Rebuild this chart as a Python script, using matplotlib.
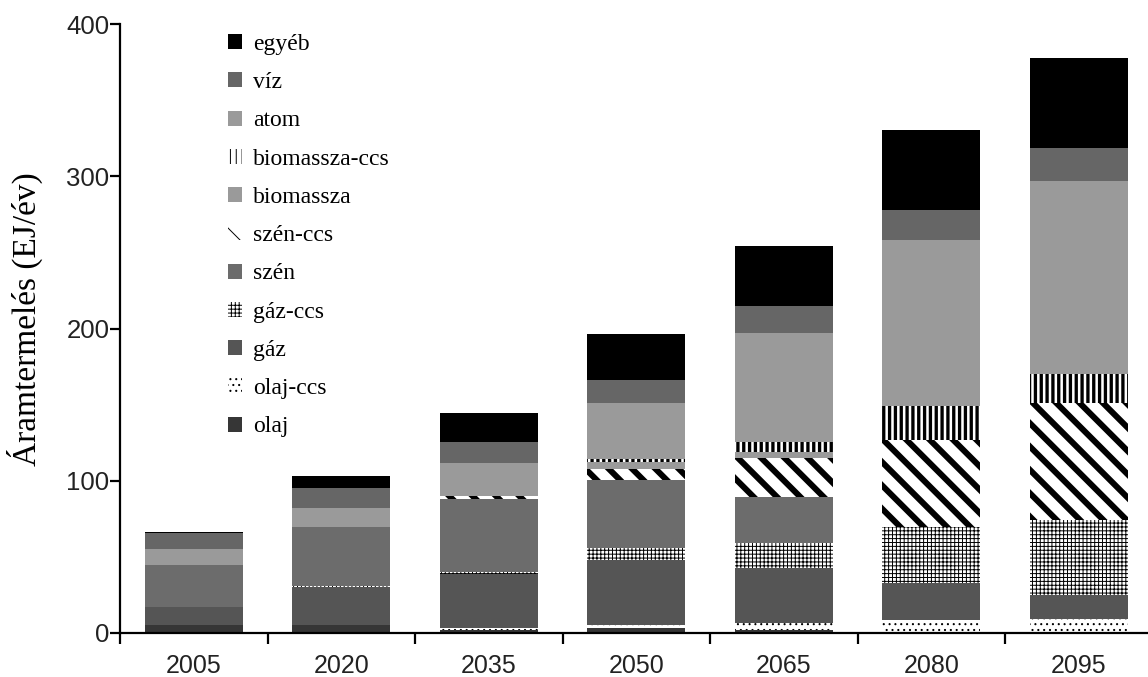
import matplotlib
matplotlib.use("Agg")
import matplotlib.pyplot as plt
import numpy as np

years = ["2005", "2020", "2035", "2050", "2065", "2080", "2095"]

olaj        = [5.3, 5.3, 2.0, 3.0, 2.0, 0.5, 0.5]
olaj_ccs    = [0.0, 0.0, 1.1, 2.3, 4.4, 8.0, 8.5]
gaz         = [11.8, 24.9, 35.7, 42.6, 36.1, 24.1, 16.0]
gaz_ccs     = [0.0, 0.5, 1.5, 7.7, 16.8, 37.2, 49.2]
szen        = [27.6, 38.7, 47.5, 44.9, 30.2, 0.0, 0.0]
szen_ccs    = [0.0, 0.3, 2.2, 7.0, 25.2, 57.0, 76.6]
biomassza   = [0.0, 0.0, 2.0, 5.0, 4.4, 0.0, 0.0]
biomassza_ccs = [0.0, 0.0, 0.0, 1.6, 6.6, 22.3, 19.3]
atom        = [10.5, 12.6, 19.5, 36.8, 71.1, 109.0, 126.8]
viz         = [10.6, 12.7, 13.8, 15.3, 18.0, 19.7, 21.5]
egyeb       = [0.5, 8.3, 19.4, 30.2, 39.4, 52.6, 59.3]

DPI = 70
S = 100 / DPI  # point scale so sizes match a 100-dpi layout

series = [
    ("olaj", olaj, dict(facecolor="#363636", edgecolor="#363636", hatch=None), 1.0),
    ("olaj-ccs", olaj_ccs, dict(facecolor="white", edgecolor="black", hatch=".."), 1.0),
    ("gáz", gaz, dict(facecolor="#555555", edgecolor="#555555", hatch=None), 1.0),
    ("gáz-ccs", gaz_ccs, dict(facecolor="white", edgecolor="black", hatch="+++"), 1.0),
    ("szén", szen, dict(facecolor="#6c6c6c", edgecolor="#6c6c6c", hatch=None), 1.0),
    ("szén-ccs", szen_ccs, dict(facecolor="white", edgecolor="black", hatch="\\"), 6.2),
    ("biomassza", biomassza, dict(facecolor="#9a9a9a", edgecolor="#9a9a9a", hatch=None), 1.0),
    ("biomassza-ccs", biomassza_ccs, dict(facecolor="white", edgecolor="black", hatch="||"), 3.4),
    ("atom", atom, dict(facecolor="#9a9a9a", edgecolor="#9a9a9a", hatch=None), 1.0),
    ("víz", viz, dict(facecolor="#666666", edgecolor="#666666", hatch=None), 1.0),
    ("egyéb", egyeb, dict(facecolor="black", edgecolor="black", hatch=None), 1.0),
]

W, H = 1148, 677
fig = plt.figure(figsize=(W / DPI, H / DPI), dpi=DPI)
ax = fig.add_axes([120 / W, (H - 633) / H, 1032.5 / W, (633 - 24) / H])

x = np.arange(len(years))
bottom = np.zeros(len(years))
handles = []
for name, vals, style, hlw in series:
    with plt.rc_context({"hatch.linewidth": hlw}):
        bc = ax.bar(x, vals, 0.665, bottom=bottom, linewidth=0, label=name, **style)
    handles.append(bc)
    bottom += np.array(vals)

ax.set_xlim(-0.5, 6.5)
ax.set_ylim(0, 400)
for s in ["top", "right"]:
    ax.spines[s].set_visible(False)
for s in ["left", "bottom"]:
    ax.spines[s].set_linewidth(1.6 * S)
    ax.spines[s].set_color("black")

ax.set_yticks([0, 100, 200, 300, 400])
ax.set_yticklabels(["0", "100", "200", "300", "400"], fontfamily="Liberation Sans",
                   fontsize=18.5 * S, color="#222222")
ax.tick_params(axis="y", direction="out", length=7 * S, width=1.6 * S, pad=0.5 * S)

ax.set_xticks(np.arange(-0.5, 7.0, 1.0))
ax.set_xticklabels([])
ax.tick_params(axis="x", which="major", direction="out", length=8 * S, width=1.6 * S)
ax.set_xticks(x, minor=True)
ax.set_xticklabels(years, minor=True, fontfamily="Liberation Sans", fontsize=18 * S,
                   color="#222222")
ax.tick_params(axis="x", which="minor", length=0, pad=15 * S)

ax.set_ylabel("Áramtermelés (EJ/év)", fontfamily="Liberation Serif", fontsize=24 * S)
ax.yaxis.set_label_coords(-0.075, 0.516)

leg = ax.legend(handles[::-1], [s[0] for s in series][::-1],
                loc="upper left", bbox_to_anchor=(228 / W, (H - 34) / H),
                bbox_transform=fig.transFigure, frameon=False,
                prop={"family": "Liberation Serif", "size": 17 * S},
                handlelength=0.6, handleheight=0.6, handletextpad=0.45,
                labelspacing=0.73, borderpad=0, borderaxespad=0)

fig.savefig("out.png", dpi=DPI)
